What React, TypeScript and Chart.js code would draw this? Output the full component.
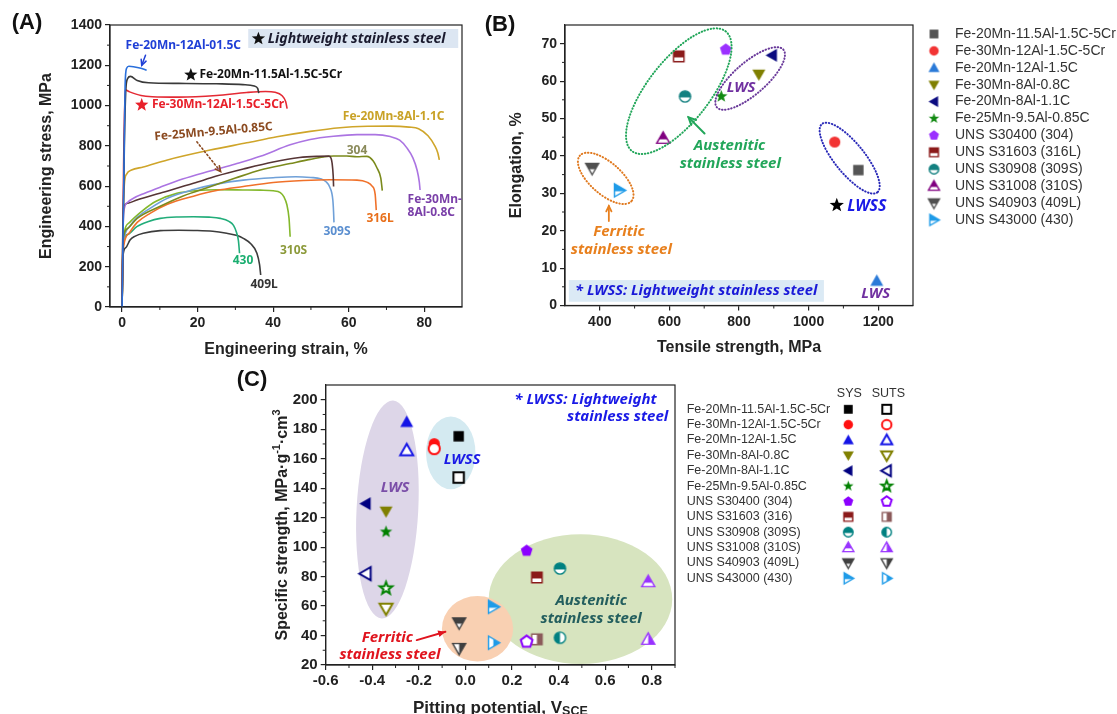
import React, { useEffect, useRef } from "react";
import { Chart, registerables } from "chart.js";
Chart.register(...registerables);

const AX_FONT = '"Liberation Sans", Arial, sans-serif';
const ANN_FONT = '"Noto Sans", "Open Sans", sans-serif';
const AX_COLOR = "#222";

// ---------------- Panel A data (engineering stress–strain) ----------------
const strainTicksA = [0, 20, 40, 60, 80];
const stressTicksA = [0, 200, 400, 600, 800, 1000, 1200, 1400];
const curveFe20Mn12Al15C: [number, number][] = [[0, 0], [0.5, 700], [0.8, 1100], [1.2, 1185], [1.8, 1195], [3, 1193], [5, 1185], [6.5, 1175]];
const curveFe20Mn115Al5Cr: [number, number][] = [[0, 0], [0.6, 800], [1.0, 1080], [1.5, 1135], [2.2, 1145], [4, 1125], [7, 1113], [15, 1110], [25, 1108], [32, 1104], [35, 1097], [35.9, 1085], [36.2, 1062]];
const curveFe30Mn12Al5Cr: [number, number][] = [[0, 0], [0.4, 700], [0.8, 1078], [2, 1068], [5, 1050], [8, 1044], [15, 1042], [25, 1050], [33, 1065], [38, 1070], [40.5, 1066], [42.3, 1050], [43.3, 1020], [43.7, 985]];
const curveFe20Mn8Al11C: [number, number][] = [[0, 0], [0.3, 450], [0.6, 610], [1.2, 660], [2.5, 680], [5.6, 695], [12, 730], [23.3, 779], [33, 815], [41, 845], [49.8, 872], [57.7, 890], [65, 897], [71, 898], [76, 893], [78.5, 885], [81, 850], [82.8, 800], [83.6, 765], [84, 730]];
const curveFe30Mn8Al08C: [number, number][] = [[0, 0], [0.3, 420], [0.6, 490], [1.5, 520], [3, 540], [6, 565], [10.1, 595], [16, 635], [23.3, 675], [30, 710], [36.6, 748], [44.5, 805], [49.8, 832], [56, 848], [62.2, 856], [67, 856], [71, 846], [73.5, 828], [75.4, 790], [77, 740], [78.1, 680], [78.7, 620], [78.9, 581]];
const curveFe25Mn95Al085C: [number, number][] = [[0, 0], [0.2, 400], [0.5, 500], [1.5, 515], [3.9, 531], [10, 565], [18.9, 614], [25, 650], [32.1, 685], [40, 720], [47, 742], [52, 748], [54.7, 749], [55.3, 740], [55.6, 715], [55.9, 650], [56, 598]];
const curve304: [number, number][] = [[0, 0], [0.2, 280], [0.4, 349], [1.5, 390], [4, 440], [10.1, 500], [16, 550], [23.3, 597], [30, 640], [36.6, 680], [44.5, 712], [49.8, 733], [53.3, 745], [56, 750], [59.5, 750], [62.2, 746], [64.8, 748], [66.5, 725], [67.5, 690], [68.5, 640], [68.9, 578]];
const curve316L: [number, number][] = [[0, 0], [0.2, 250], [0.4, 300], [2, 370], [4, 420], [7.4, 465], [12, 510], [18.9, 550], [25, 578], [32.1, 598], [40, 618], [48, 628], [55, 632], [62.2, 630], [64.8, 620], [66.2, 600], [67, 560], [67.3, 481]];
const curve309S: [number, number][] = [[0, 0], [0.2, 260], [0.4, 320], [2, 400], [4, 445], [7.4, 490], [12, 540], [18.9, 583], [25, 610], [32.1, 630], [40, 642], [46, 647], [50, 643], [52.5, 637], [54, 622], [55, 595], [55.8, 531], [56, 470], [56.1, 420]];
const curve310S: [number, number][] = [[0, 0], [0.2, 280], [0.4, 349], [2, 420], [5.6, 481], [9, 525], [14.5, 564], [20, 578], [25, 582], [32, 581], [36.6, 580], [40, 577], [41.9, 568], [42.9, 545], [43.6, 510], [44.2, 440], [44.5, 349]];
const curve430: [number, number][] = [[0, 0], [0.2, 300], [1.5, 360], [3.9, 399], [7, 425], [10.1, 440], [15, 447], [18.9, 448], [23, 446], [26, 440], [28.3, 425], [29.5, 405], [30.3, 370], [30.8, 330], [31.1, 267]];
const curve409L: [number, number][] = [[0, 0], [0.2, 250], [1, 295], [2.1, 333], [3.5, 352], [5.6, 366], [10.1, 379], [15, 381], [18.9, 380], [24, 376], [27.7, 366], [30.5, 355], [32.1, 341], [34, 315], [35.7, 267], [36.4, 210], [36.7, 159]];

// ---------------- Panel B data (tensile strength vs elongation) ----------------
const materialNamesB = ["Fe-20Mn-11.5Al-1.5C-5Cr", "Fe-30Mn-12Al-1.5C-5Cr", "Fe-20Mn-12Al-1.5C", "Fe-30Mn-8Al-0.8C", "Fe-20Mn-8Al-1.1C", "Fe-25Mn-9.5Al-0.85C", "UNS S30400 (304)", "UNS S31603 (316L)", "UNS S30908 (309S)", "UNS S31008 (310S)", "UNS S40903 (409L)", "UNS S43000 (430)"];
const tensileStrengthB = [1143, 1075, 1196, 857, 895, 749, 762, 627, 645, 582, 378, 456];
const elongationB = [36.2, 43.7, 6.6, 61.8, 66.9, 55.9, 68.4, 66.6, 55.9, 44.7, 36.7, 30.8];
const tensileTicksB = [400, 600, 800, 1000, 1200];
const elongationTicksB = [0, 10, 20, 30, 40, 50, 60, 70];

// ---------------- Panel C data (pitting potential vs specific strength) ----------------
const materialNamesC = ["Fe-20Mn-11.5Al-1.5C-5Cr", "Fe-30Mn-12Al-1.5C-5Cr", "Fe-20Mn-12Al-1.5C", "Fe-30Mn-8Al-0.8C", "Fe-20Mn-8Al-1.1C", "Fe-25Mn-9.5Al-0.85C", "UNS S30400 (304)", "UNS S31603 (316)", "UNS S30908 (309S)", "UNS S31008 (310S)", "UNS S40903 (409L)", "UNS S43000 (430)"];
const pittingPotentialC = [-0.029, -0.134, -0.252, -0.341, -0.428, -0.341, 0.263, 0.307, 0.406, 0.785, -0.027, 0.12];
const specificYieldC = [175.2, 170.2, 184.9, 124.3, 129.5, 110.3, 97.5, 79.4, 85.5, 76.5, 48.7, 59.5];
const specificUTSC = [147.2, 166.8, 165.7, 58.4, 82, 72, 35.8, 37.4, 38.5, 37.4, 31.3, 35.1];
const potentialTicksC = [-0.6, -0.4, -0.2, 0, 0.2, 0.4, 0.6, 0.8];
const strengthTicksC = [20, 40, 60, 80, 100, 120, 140, 160, 180, 200];

// ---------------- styles ----------------
type Shape = "square" | "circle" | "triUp" | "triDown" | "triLeft" | "triRight" | "star" | "pentagon";
type FillMode = "full" | "open" | "top" | "left" | "right";

const markerStyles: { shape: Shape; colB: string; fillB: FillMode; colC: string; sys: FillMode; suts: FillMode; colSuts?: string }[] = [
  { shape: "square", colB: "#555555", fillB: "full", colC: "#000000", sys: "full", suts: "open" },
  { shape: "circle", colB: "#f23434", fillB: "full", colC: "#ff1010", sys: "full", suts: "open" },
  { shape: "triUp", colB: "#2a7ad8", fillB: "full", colC: "#1414e6", sys: "full", suts: "open" },
  { shape: "triDown", colB: "#7f7f00", fillB: "full", colC: "#808000", sys: "full", suts: "open" },
  { shape: "triLeft", colB: "#0a0a80", fillB: "full", colC: "#000080", sys: "full", suts: "open" },
  { shape: "star", colB: "#138a13", fillB: "full", colC: "#008000", sys: "full", suts: "open" },
  { shape: "pentagon", colB: "#9b30ff", fillB: "full", colC: "#8b00ff", sys: "full", suts: "open" },
  { shape: "square", colB: "#8b1a1a", fillB: "top", colC: "#8b1a1a", sys: "top", suts: "right", colSuts: "#8b5a5a" },
  { shape: "circle", colB: "#138080", fillB: "top", colC: "#008080", sys: "top", suts: "left" },
  { shape: "triUp", colB: "#800080", fillB: "top", colC: "#9933ff", sys: "top", suts: "right" },
  { shape: "triDown", colB: "#505050", fillB: "top", colC: "#404040", sys: "top", suts: "right" },
  { shape: "triRight", colB: "#1e9be8", fillB: "top", colC: "#1e9be8", sys: "top", suts: "right" },
];

function tracePath(ctx: CanvasRenderingContext2D, shape: Shape, cx: number, cy: number, s: number) {
  ctx.beginPath();
  switch (shape) {
    case "square": { const h = s * 0.8; ctx.rect(cx - h, cy - h, 2 * h, 2 * h); break; }
    case "circle": ctx.arc(cx, cy, s * 0.86, 0, Math.PI * 2); break;
    case "triUp": ctx.moveTo(cx, cy - s); ctx.lineTo(cx + s, cy + s * 0.75); ctx.lineTo(cx - s, cy + s * 0.75); ctx.closePath(); break;
    case "triDown": ctx.moveTo(cx, cy + s); ctx.lineTo(cx + s, cy - s * 0.75); ctx.lineTo(cx - s, cy - s * 0.75); ctx.closePath(); break;
    case "triLeft": ctx.moveTo(cx - s, cy); ctx.lineTo(cx + s * 0.75, cy - s); ctx.lineTo(cx + s * 0.75, cy + s); ctx.closePath(); break;
    case "triRight": ctx.moveTo(cx + s, cy); ctx.lineTo(cx - s * 0.75, cy - s); ctx.lineTo(cx - s * 0.75, cy + s); ctx.closePath(); break;
    case "star":
      for (let i = 0; i < 10; i++) {
        const a = -Math.PI / 2 + (i * Math.PI) / 5;
        const r = i % 2 ? s * 0.42 : s;
        ctx.lineTo(cx + r * Math.cos(a), cy + r * Math.sin(a));
      }
      ctx.closePath();
      break;
    case "pentagon":
      for (let i = 0; i < 5; i++) {
        const a = -Math.PI / 2 + (i * 2 * Math.PI) / 5;
        ctx.lineTo(cx + s * 0.95 * Math.cos(a), cy + s * 0.95 * Math.sin(a));
      }
      ctx.closePath();
      break;
  }
}

function makeMarker(shape: Shape, color: string, mode: FillMode, s: number): HTMLCanvasElement {
  const dim = Math.ceil(2 * s + 8);
  const c = document.createElement("canvas");
  c.width = dim;
  c.height = dim;
  const ctx = c.getContext("2d")!;
  const cx = dim / 2, cy = dim / 2;
  tracePath(ctx, shape, cx, cy, s);
  if (mode === "full") {
    ctx.fillStyle = color;
    ctx.fill();
    return c;
  }
  ctx.fillStyle = "#fff";
  ctx.fill();
  if (mode !== "open") {
    ctx.save();
    tracePath(ctx, shape, cx, cy, s);
    ctx.clip();
    ctx.fillStyle = color;
    if (mode === "top") ctx.fillRect(0, 0, dim, cy + s * 0.15);
    else if (mode === "left") ctx.fillRect(0, 0, cx, dim);
    else ctx.fillRect(cx, 0, dim - cx, dim);
    ctx.restore();
  }
  tracePath(ctx, shape, cx, cy, s);
  ctx.strokeStyle = color;
  ctx.lineWidth = mode === "open" ? 2 : 1.4;
  ctx.stroke();
  return c;
}

function txt(ctx: CanvasRenderingContext2D, s: string, x: number, y: number, font: string, color: string, align: CanvasTextAlign = "center", rot = 0) {
  ctx.save();
  ctx.translate(x, y);
  if (rot) ctx.rotate((rot * Math.PI) / 180);
  ctx.font = font;
  ctx.fillStyle = color;
  ctx.textAlign = align;
  ctx.textBaseline = "middle";
  ctx.fillText(s, 0, 0);
  ctx.restore();
}

function arrow(ctx: CanvasRenderingContext2D, x1: number, y1: number, x2: number, y2: number, color: string, lw: number, head: "filled" | "open", dash?: number[], L = 7) {
  ctx.save();
  ctx.strokeStyle = color;
  ctx.fillStyle = color;
  ctx.lineWidth = lw;
  ctx.lineCap = "round";
  if (dash) ctx.setLineDash(dash);
  ctx.beginPath();
  ctx.moveTo(x1, y1);
  ctx.lineTo(x2, y2);
  ctx.stroke();
  ctx.setLineDash([]);
  const ang = Math.atan2(y2 - y1, x2 - x1);
  ctx.beginPath();
  ctx.moveTo(x2 - L * Math.cos(ang - 0.45), y2 - L * Math.sin(ang - 0.45));
  ctx.lineTo(x2, y2);
  ctx.lineTo(x2 - L * Math.cos(ang + 0.45), y2 - L * Math.sin(ang + 0.45));
  if (head === "filled") {
    ctx.closePath();
    ctx.fill();
  } else ctx.stroke();
  ctx.restore();
}

function drawStar(ctx: CanvasRenderingContext2D, x: number, y: number, s: number, color: string) {
  ctx.save();
  tracePath(ctx, "star", x, y, s);
  ctx.fillStyle = color;
  ctx.fill();
  ctx.restore();
}

function makeScale(o: { min: number; max: number; ticks: number[]; size: number; horizontal: boolean; fontSize: number; pad: number; fmt?: (v: number) => string; title?: string; titlePad?: number }) {
  return {
    type: "linear",
    min: o.min,
    max: o.max,
    afterBuildTicks: (s: any) => {
      s.ticks = o.ticks.map((v) => ({ value: v }));
    },
    afterFit: (s: any) => {
      if (o.horizontal) s.height = o.size;
      else s.width = o.size;
    },
    ticks: {
      font: { family: AX_FONT, size: o.fontSize, weight: "bold" },
      color: AX_COLOR,
      padding: o.pad,
      maxRotation: 0,
      autoSkip: false,
      callback: (v: any) => (o.fmt ? o.fmt(Number(v)) : String(v)),
    },
    grid: { display: true, drawOnChartArea: false, drawTicks: true, tickLength: 5, color: AX_COLOR, lineWidth: 1.2 },
    border: { display: true, color: AX_COLOR, width: 1.2 },
    title: o.title
      ? {
          display: true,
          text: o.title,
          font: { family: AX_FONT, size: 16, weight: "bold" },
          color: AX_COLOR,
          padding: o.horizontal ? { top: 0, bottom: o.titlePad } : { top: o.titlePad, bottom: 0 },
        }
      : { display: false },
  };
}

function frameAndMinor(minX: number[], minY: number[]) {
  return {
    id: "frameMinor",
    afterDraw(chart: any) {
      const { ctx, chartArea: a } = chart;
      ctx.save();
      ctx.strokeStyle = AX_COLOR;
      ctx.lineWidth = 1;
      minX.forEach((v) => {
        const p = chart.scales.x.getPixelForValue(v);
        ctx.beginPath();
        ctx.moveTo(p, a.bottom);
        ctx.lineTo(p, a.bottom + 3);
        ctx.stroke();
      });
      minY.forEach((v) => {
        const p = chart.scales.y.getPixelForValue(v);
        ctx.beginPath();
        ctx.moveTo(a.left, p);
        ctx.lineTo(a.left - 3, p);
        ctx.stroke();
      });
      ctx.lineWidth = 1.2;
      ctx.strokeRect(a.left, a.top, a.right - a.left, a.bottom - a.top);
      ctx.restore();
    },
  };
}

const SIZE_A = { w: 478, h: 365 };
const SIZE_B = { w: 639, h: 365 };
const SIZE_C = { w: 800, h: 349 };

export default function App() {
  const refA = useRef<HTMLCanvasElement>(null);
  const refB = useRef<HTMLCanvasElement>(null);
  const refC = useRef<HTMLCanvasElement>(null);

  useEffect(() => {
    document.body.style.margin = "0";
    const charts: Chart[] = [];

    // ---------- Panel A ----------
    const curvesA = [
      { pts: curveFe20Mn12Al15C, color: "#2a6fdb" },
      { pts: curveFe20Mn115Al5Cr, color: "#3a3a3a" },
      { pts: curveFe30Mn12Al5Cr, color: "#e42a34" },
      { pts: curveFe20Mn8Al11C, color: "#cfa52a" },
      { pts: curveFe30Mn8Al08C, color: "#ab74e2" },
      { pts: curveFe25Mn95Al085C, color: "#563535" },
      { pts: curve304, color: "#7b8a1c" },
      { pts: curve316L, color: "#f0712a" },
      { pts: curve309S, color: "#6fa0d8" },
      { pts: curve310S, color: "#84b82c" },
      { pts: curve430, color: "#22ad7a" },
      { pts: curve409L, color: "#3c3c3c" },
    ];
    const annA = {
      id: "annA",
      afterDraw(chart: any) {
        const ctx = chart.ctx as CanvasRenderingContext2D;
        const X = (v: number) => chart.scales.x.getPixelForValue(v);
        const Y = (v: number) => chart.scales.y.getPixelForValue(v);
        const f = (sz: number, st = "") => `${st} bold ${sz}px ${ANN_FONT}`;
        ctx.save();
        ctx.fillStyle = "#dce6f2";
        ctx.fillRect(X(33.4), Y(1380), X(89) - X(33.4), Y(1286) - Y(1380));
        ctx.restore();
        drawStar(ctx, X(36.1), Y(1332), 7, "#111");
        txt(ctx, "Lightweight stainless steel", X(38.6), Y(1332), f(14, "italic"), "#1a1a2e", "left");
        txt(ctx, "Fe-20Mn-12Al-01.5C", X(16.2), Y(1296), f(12), "#1f3fd6");
        arrow(ctx, X(6.2), Y(1250), X(5.2), Y(1200), "#1f3fd6", 1.5, "open", undefined, 6);
        drawStar(ctx, X(18.2), Y(1152), 7, "#111");
        txt(ctx, "Fe-20Mn-11.5Al-1.5C-5Cr", X(20.5), Y(1152), f(12), "#111", "left");
        drawStar(ctx, X(5.2), Y(1003), 7, "#e8202a");
        txt(ctx, "Fe-30Mn-12Al-1.5C-5Cr", X(7.9), Y(1003), f(12), "#e8202a", "left");
        txt(ctx, "Fe-20Mn-8Al-1.1C", X(71.9), Y(945), f(12), "#c9a227");
        txt(ctx, "Fe-25Mn-9.5Al-0.85C", X(24.2), Y(870), f(12), "#8b4a20", "center", -5);
        arrow(ctx, X(19.8), Y(820), X(26.1), Y(672), "#8b4a20", 1.6, "open", [1.5, 2.5], 6);
        txt(ctx, "304", X(62.2), Y(779), f(12), "#8a8a5a");
        txt(ctx, "Fe-30Mn-", X(75.6), Y(531), f(12), "#7a3fa8", "left");
        txt(ctx, "8Al-0.8C", X(75.6), Y(470), f(12), "#7a3fa8", "left");
        txt(ctx, "316L", X(68.3), Y(440), f(12), "#e8701c");
        txt(ctx, "309S", X(56.9), Y(374), f(12), "#5b8fd0");
        txt(ctx, "310S", X(45.4), Y(279), f(12), "#8c9a3a");
        txt(ctx, "430", X(32), Y(230), f(12), "#1aae70");
        txt(ctx, "409L", X(37.6), Y(109), f(12), "#333");
        txt(ctx, "(A)", 27, 23, `bold 22px ${AX_FONT}`, "#111");
      },
    };
    charts.push(
      new Chart(refA.current!, {
        type: "line",
        data: {
          datasets: curvesA.map((c) => ({
            data: c.pts.map(([x, y]) => ({ x, y })),
            borderColor: c.color,
            borderWidth: 1.6,
            pointRadius: 0,
            fill: false,
            cubicInterpolationMode: "monotone",
          })),
        } as any,
        options: {
          animation: false,
          responsive: false,
          devicePixelRatio: 1,
          layout: { padding: { left: 0, top: 25, right: SIZE_A.w - 462, bottom: 0 } },
          scales: {
            x: makeScale({ min: -3.2, max: 90, ticks: strainTicksA, size: SIZE_A.h - 307, horizontal: true, fontSize: 14, pad: 3, title: "Engineering strain, %", titlePad: 6 }),
            y: makeScale({ min: 0, max: 1400, ticks: stressTicksA, size: 110, horizontal: false, fontSize: 14, pad: 3, title: "Engineering stress, MPa", titlePad: 37 }),
          } as any,
          plugins: { legend: { display: false }, tooltip: { enabled: false } },
        },
        plugins: [frameAndMinor([10, 30, 50, 70], [100, 300, 500, 700, 900, 1100, 1300]), annA],
      })
    );

    // ---------- Panel B ----------
    const ellipsesB = [
      { cx: 627, cy: 57.3, rx: 76, ry: 31, ang: -52, color: "#22a65a" },
      { cx: 832, cy: 60.7, rx: 44, ry: 16, ang: -41, color: "#6a3a9a" },
      { cx: 1118, cy: 39.4, rx: 44, ry: 15, ang: 51, color: "#2a2ab8" },
      { cx: 417, cy: 34, rx: 34.4, ry: 15.8, ang: 41.5, color: "#e07a20" },
    ];
    const annB = {
      id: "annB",
      afterDatasetsDraw(chart: any) {
        const ctx = chart.ctx as CanvasRenderingContext2D;
        const X = (v: number) => chart.scales.x.getPixelForValue(v);
        const Y = (v: number) => chart.scales.y.getPixelForValue(v);
        const f = (sz: number) => `italic bold ${sz}px ${ANN_FONT}`;
        ellipsesB.forEach((e) => {
          ctx.save();
          ctx.strokeStyle = e.color;
          ctx.lineWidth = 2;
          ctx.lineCap = "round";
          ctx.setLineDash([0.5, 2.6]);
          ctx.beginPath();
          ctx.ellipse(X(e.cx), Y(e.cy), e.rx, e.ry, (e.ang * Math.PI) / 180, 0, Math.PI * 2);
          ctx.stroke();
          ctx.restore();
        });
        txt(ctx, "LWS", X(806), Y(58.2), f(15), "#7030a0");
        txt(ctx, "Austenitic", X(773), Y(42.7), f(15), "#22a65a");
        txt(ctx, "stainless steel", X(775), Y(38), f(15), "#22a65a");
        arrow(ctx, X(701), Y(46), X(655), Y(50.3), "#22a65a", 2, "open", undefined, 8);
        txt(ctx, "Ferritic", X(455), Y(19.7), f(15), "#e8801e");
        txt(ctx, "stainless steel", X(462), Y(15), f(15), "#e8801e");
        arrow(ctx, X(426), Y(22.6), X(426), Y(26.6), "#e8801e", 1.8, "open", undefined, 6);
        drawStar(ctx, X(1081), Y(26.8), 7.5, "#000");
        txt(ctx, "LWSS", X(1111), Y(26.5), f(16), "#1a1ae6", "left");
        txt(ctx, "LWS", X(1193), Y(3.1), f(15), "#7030a0");
        ctx.save();
        ctx.fillStyle = "#dbeaf5";
        ctx.fillRect(X(311), Y(6.8), X(1044) - X(311), Y(1.0) - Y(6.8));
        ctx.restore();
        txt(ctx, "* LWSS: Lightweight stainless steel", X(677), Y(3.9), f(14.7), "#1a1ad8");
      },
      afterDraw(chart: any) {
        const ctx = chart.ctx as CanvasRenderingContext2D;
        const a = chart.chartArea;
        materialNamesB.forEach((name, i) => {
          const st = markerStyles[i];
          const m = makeMarker(st.shape, st.colB, st.fillB, 5.5);
          const y = 34 + i * 16.9;
          ctx.drawImage(m, a.right + 21 - m.width / 2, y - m.height / 2);
          txt(ctx, name, a.right + 42, y, `14px ${AX_FONT}`, "#333", "left");
        });
        txt(ctx, "(B)", 22, 25, `bold 22px ${AX_FONT}`, "#111");
      },
    };
    charts.push(
      new Chart(refB.current!, {
        type: "scatter",
        data: {
          datasets: materialNamesB.map((name, i) => ({
            label: name,
            data: [{ x: tensileStrengthB[i], y: elongationB[i] }],
            pointStyle: makeMarker(markerStyles[i].shape, markerStyles[i].colB, markerStyles[i].fillB, 6.5),
            pointRadius: 6,
          })),
        } as any,
        options: {
          animation: false,
          responsive: false,
          devicePixelRatio: 1,
          layout: { padding: { left: 0, top: 25, right: SIZE_B.w - 435, bottom: 0 } },
          scales: {
            x: makeScale({ min: 300, max: 1300, ticks: tensileTicksB, size: SIZE_B.h - 305.5, horizontal: true, fontSize: 14, pad: 3, title: "Tensile strength, MPa", titlePad: 8 }),
            y: makeScale({ min: 0, max: 75, ticks: elongationTicksB, size: 87, horizontal: false, fontSize: 14, pad: 3, title: "Elongation, %", titlePad: 29.4 }),
          } as any,
          plugins: { legend: { display: false }, tooltip: { enabled: false } },
        },
        plugins: [frameAndMinor([500, 700, 900, 1100], [5, 15, 25, 35, 45, 55, 65]), annB],
      })
    );

    // ---------- Panel C ----------
    const ellipsesC = [
      { cx: 0.494, cy: 64.7, rx: 0.394, ry: 44, ang: 0, color: "#d7e4bf" },
      { cx: 0.052, cy: 44.6, rx: 0.153, ry: 22.2, ang: 0, color: "#f9d0b2" },
      { cx: -0.335, cy: 125.5, rx: 0.1325, ry: 74, ang: 3, color: "#ddd6e8" },
      { cx: -0.063, cy: 164, rx: 0.106, ry: 24.7, ang: 0, color: "#d4eaf1" },
    ];
    const annC = {
      id: "annC",
      beforeDatasetsDraw(chart: any) {
        const ctx = chart.ctx as CanvasRenderingContext2D;
        const xs = chart.scales.x, ys = chart.scales.y;
        ellipsesC.forEach((e) => {
          const cx = xs.getPixelForValue(e.cx), cy = ys.getPixelForValue(e.cy);
          const rx = Math.abs(xs.getPixelForValue(e.cx + e.rx) - cx);
          const ry = Math.abs(ys.getPixelForValue(e.cy + e.ry) - cy);
          ctx.save();
          ctx.fillStyle = e.color;
          ctx.beginPath();
          ctx.ellipse(cx, cy, rx, ry, (e.ang * Math.PI) / 180, 0, Math.PI * 2);
          ctx.fill();
          ctx.restore();
        });
      },
      afterDatasetsDraw(chart: any) {
        const ctx = chart.ctx as CanvasRenderingContext2D;
        const X = (v: number) => chart.scales.x.getPixelForValue(v);
        const Y = (v: number) => chart.scales.y.getPixelForValue(v);
        const f = (sz: number) => `italic bold ${sz}px ${ANN_FONT}`;
        txt(ctx, "* LWSS: Lightweight", X(0.821), Y(200), f(15), "#1a1ae6", "right");
        txt(ctx, "stainless steel", X(0.871), Y(188.2), f(15), "#1a1ae6", "right");
        txt(ctx, "LWS", X(-0.302), Y(140.1), f(15), "#7b4fa8");
        txt(ctx, "LWSS", X(-0.014), Y(159.6), f(15), "#1a1ae6");
        txt(ctx, "Austenitic", X(0.54), Y(63.6), f(15), "#235e5e");
        txt(ctx, "stainless steel", X(0.54), Y(51.6), f(15), "#235e5e");
        txt(ctx, "Ferritic", X(-0.335), Y(38.8), f(15), "#e0141e");
        txt(ctx, "stainless steel", X(-0.324), Y(27.3), f(15), "#e0141e");
        arrow(ctx, X(-0.209), Y(36.9), X(-0.086), Y(42.6), "#e0141e", 2, "filled", undefined, 8);
      },
      afterDraw(chart: any) {
        const ctx = chart.ctx as CanvasRenderingContext2D;
        const a = chart.chartArea;
        const rich = (segs: { t: string; sz: number; dy: number }[], x: number, y: number, rot: number) => {
          ctx.save();
          ctx.translate(x, y);
          ctx.rotate(rot);
          ctx.fillStyle = AX_COLOR;
          ctx.textBaseline = "middle";
          ctx.textAlign = "left";
          let total = 0;
          segs.forEach((s) => {
            ctx.font = `bold ${s.sz}px ${AX_FONT}`;
            total += ctx.measureText(s.t).width;
          });
          let cx = -total / 2;
          segs.forEach((s) => {
            ctx.font = `bold ${s.sz}px ${AX_FONT}`;
            ctx.fillText(s.t, cx, s.dy);
            cx += ctx.measureText(s.t).width;
          });
          ctx.restore();
        };
        rich([{ t: "Pitting potential, V", sz: 17, dy: 0 }, { t: "SCE", sz: 12.5, dy: 4 }], (a.left + a.right) / 2, 343, 0);
        rich(
          [
            { t: "Specific strength, MPa·g", sz: 16, dy: 0 },
            { t: "-1", sz: 11, dy: -6 },
            { t: "·cm", sz: 16, dy: 0 },
            { t: "3", sz: 11, dy: -6 },
          ],
          83,
          (a.top + a.bottom) / 2,
          -Math.PI / 2
        );
        const lf = `12.5px ${AX_FONT}`;
        txt(ctx, "SYS", 649.3, 28.3, lf, "#333");
        txt(ctx, "SUTS", 688.3, 28.3, lf, "#333");
        materialNamesC.forEach((name, i) => {
          const st = markerStyles[i];
          const y = 44.3 + i * 15.36;
          txt(ctx, name, 486.7, y, lf, "#333", "left");
          const m1 = makeMarker(st.shape, st.colC, st.sys, 5.5);
          const m2 = makeMarker(st.shape, st.colSuts || st.colC, st.suts, 5.5);
          ctx.drawImage(m1, 648.3 - m1.width / 2, y - m1.height / 2);
          ctx.drawImage(m2, 686.7 - m2.width / 2, y - m2.height / 2);
        });
        txt(ctx, "(C)", 52, 15, `bold 22px ${AX_FONT}`, "#111");
      },
    };
    charts.push(
      new Chart(refC.current!, {
        type: "scatter",
        data: {
          datasets: materialNamesC.map((name, i) => {
            const st = markerStyles[i];
            return {
              label: name,
              data: [
                { x: pittingPotentialC[i], y: specificYieldC[i] },
                { x: pittingPotentialC[i], y: specificUTSC[i] },
              ],
              pointStyle: [makeMarker(st.shape, st.colC, st.sys, 6.5), makeMarker(st.shape, st.colSuts || st.colC, st.suts, 6.5)],
              pointRadius: 6,
            };
          }),
        } as any,
        options: {
          animation: false,
          responsive: false,
          devicePixelRatio: 1,
          layout: { padding: { left: 0, top: 20, right: SIZE_C.w - 475, bottom: 0 } },
          scales: {
            x: makeScale({ min: -0.6, max: 0.9, ticks: potentialTicksC, size: SIZE_C.h - 300, horizontal: true, fontSize: 15, pad: 2, fmt: (v) => v.toFixed(1) }),
            y: makeScale({ min: 20, max: 210, ticks: strengthTicksC, size: 125.7, horizontal: false, fontSize: 15, pad: 3 }),
          } as any,
          plugins: { legend: { display: false }, tooltip: { enabled: false } },
        },
        plugins: [frameAndMinor([-0.5, -0.3, -0.1, 0.1, 0.3, 0.5, 0.7, 0.9], [30, 50, 70, 90, 110, 130, 150, 170, 190]), annC],
      })
    );

    return () => charts.forEach((c) => c.destroy());
  }, []);

  return (
    <div style={{ position: "absolute", left: 0, top: 0, width: 1117, height: 714, overflow: "hidden", background: "#fff" }}>
      <canvas ref={refA} width={SIZE_A.w} height={SIZE_A.h} style={{ position: "absolute", left: 0, top: 0, width: SIZE_A.w, height: SIZE_A.h }} />
      <canvas ref={refB} width={SIZE_B.w} height={SIZE_B.h} style={{ position: "absolute", left: 478, top: 0, width: SIZE_B.w, height: SIZE_B.h }} />
      <canvas ref={refC} width={SIZE_C.w} height={SIZE_C.h} style={{ position: "absolute", left: 200, top: 365, width: SIZE_C.w, height: SIZE_C.h }} />
    </div>
  );
}
